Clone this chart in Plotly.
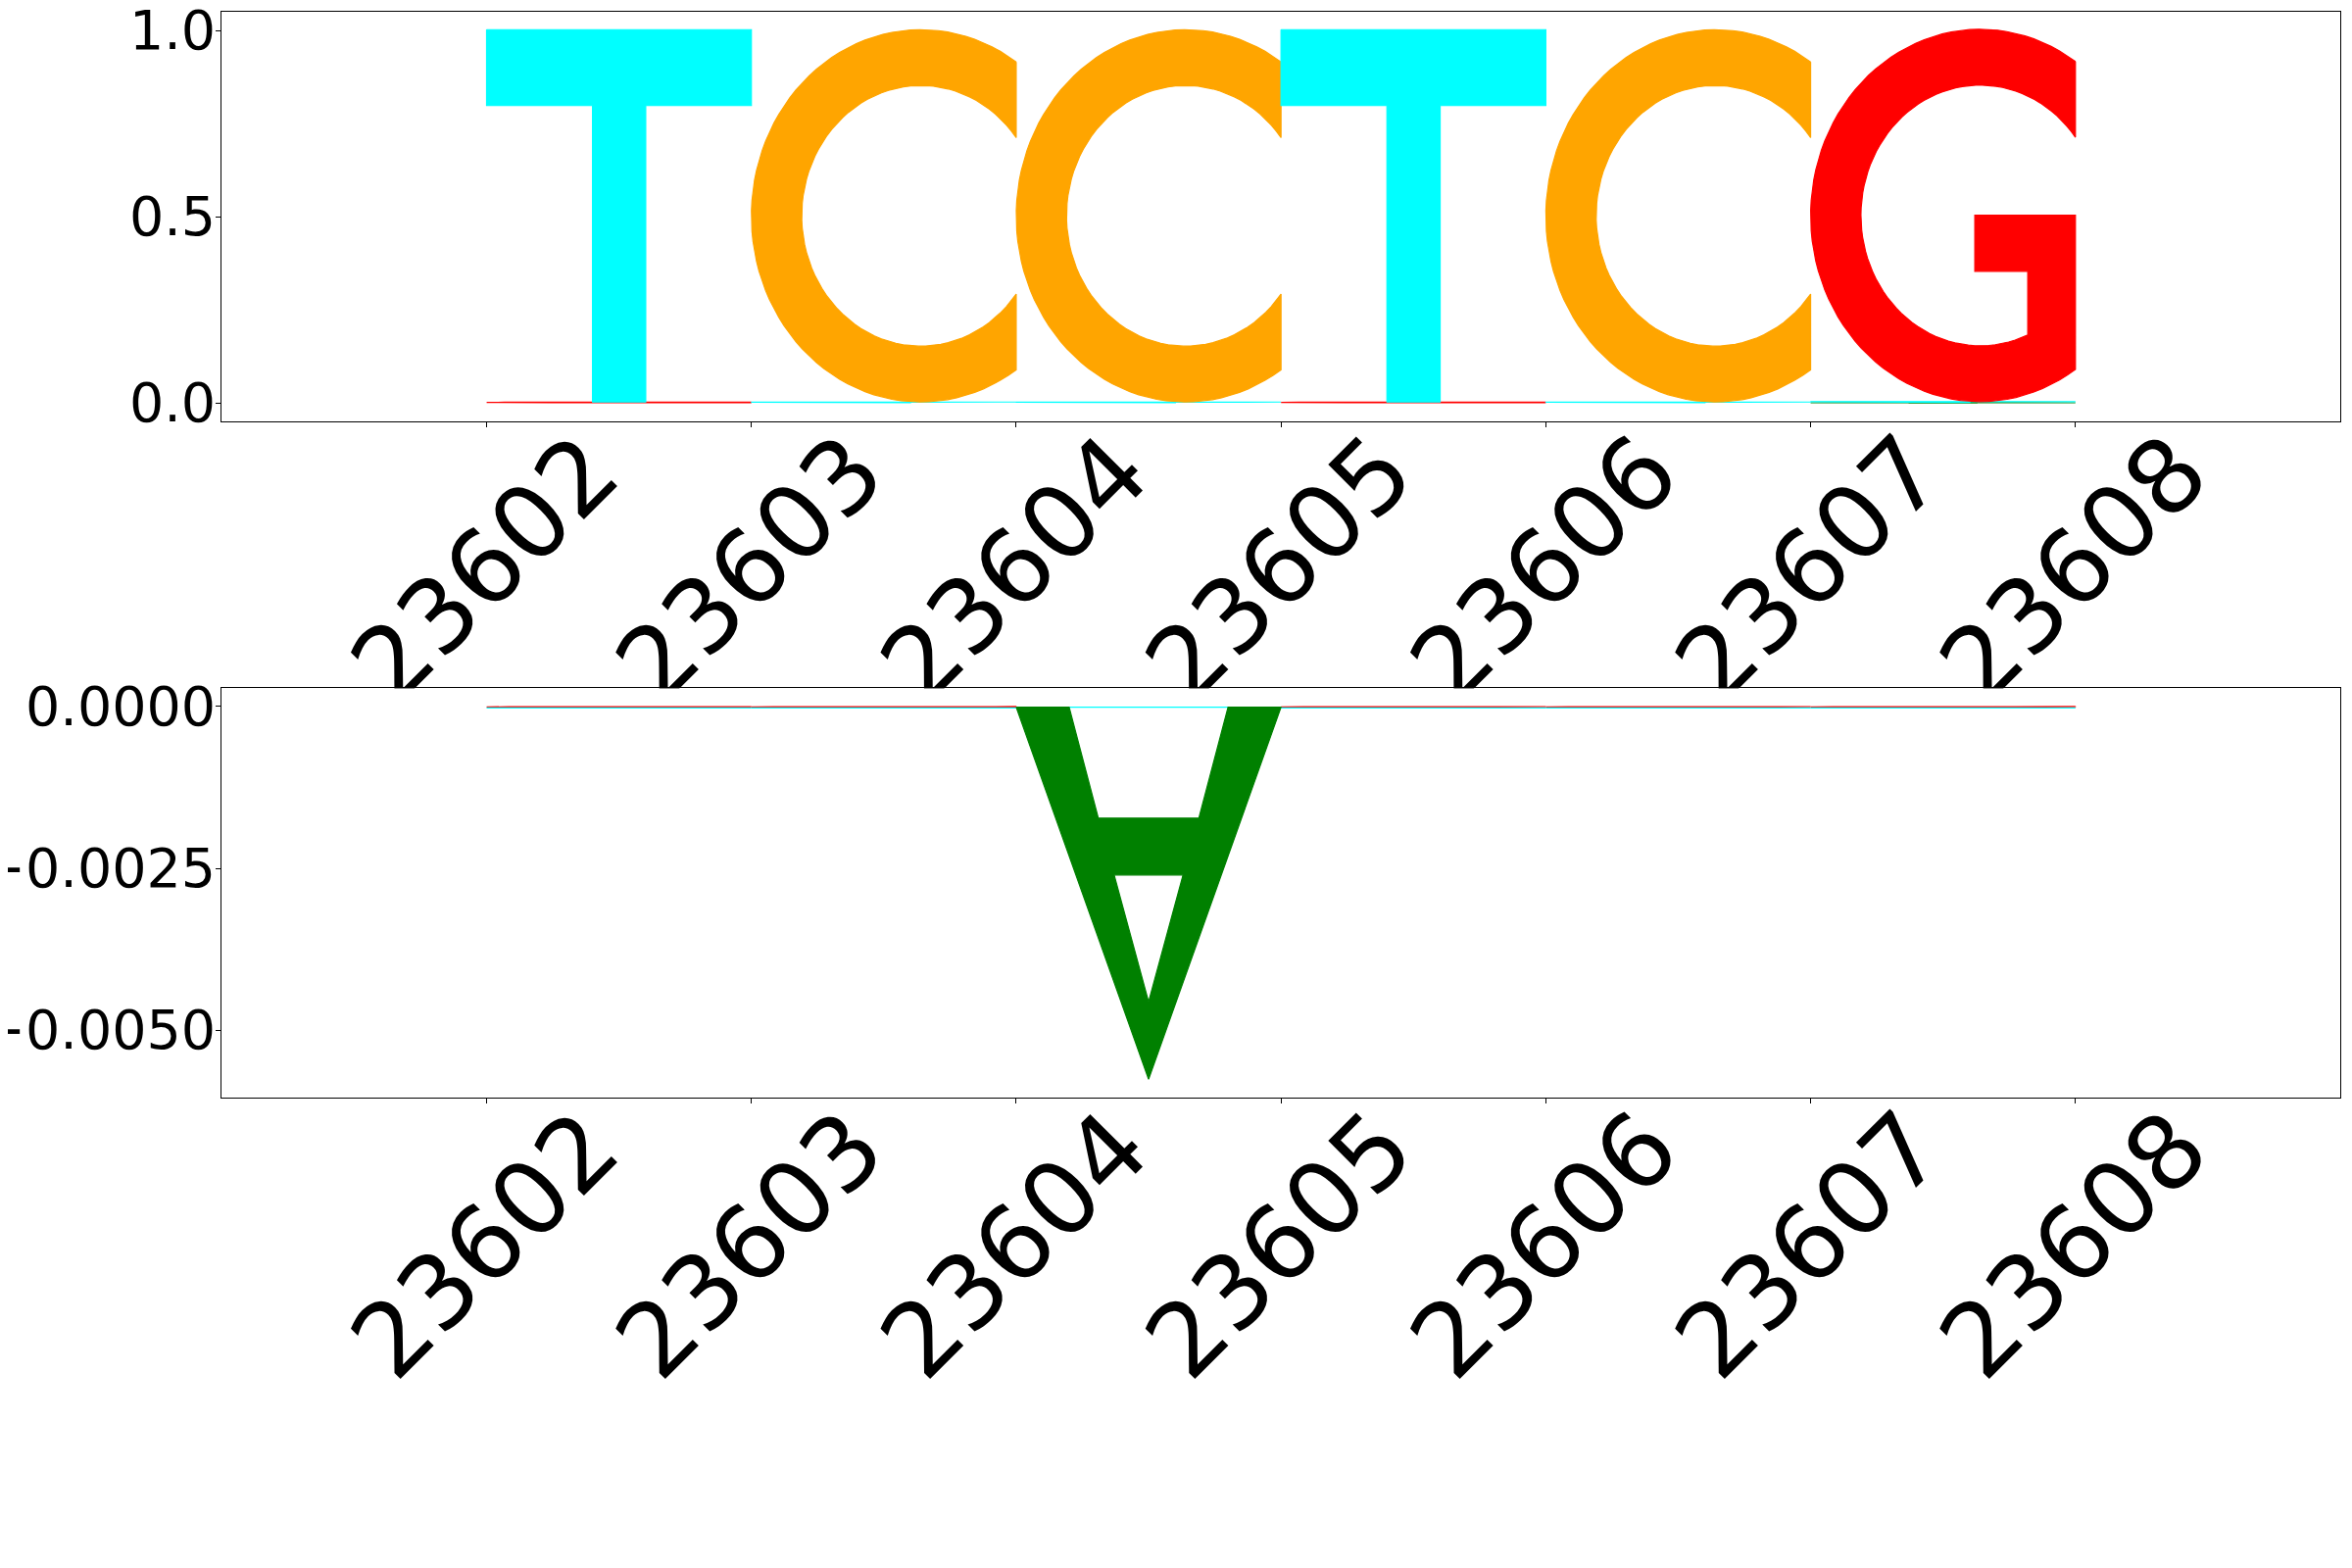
import numpy as np
import plotly.graph_objects as go

# ---------------- data ----------------
positions = [23602, 23603, 23604, 23605, 23606, 23607, 23608]
tick_labels = ["23602", "23603", "23604", "23605", "23606", "23607", "23608"]

# top panel: per-base heights
top_A = [0.0, 0.0, 0.0, 0.0, 0.0, 0.001, 0.0]
top_C = [0.0, 1.0, 1.0, 0.0, 1.0, 0.0, 0.0]
top_G = [0.002, 0.0, 0.0, 0.002, 0.0, 1.0, 0.0]
top_T = [1.0, 0.002, 0.002, 1.0, 0.002, 0.002, 0.0]

# bottom panel: per-base heights
bot_A = [0.0, 0.0, -0.00575, 0.0, 0.0, 0.0, 0.0]
bot_C = [0.0, 0.0, 0.0, 0.0, 0.0, 0.0, 0.0]
bot_G = [-0.00001, -0.00001, 0.0, -0.00001, -0.00001, -0.00001, 0.0]
bot_T = [-0.00001, -0.00001, -0.00001, -0.00001, -0.00001, -0.00001, 0.0]

top_yticks = [0.0, 0.5, 1.0]
top_yticktext = ["0.0", "0.5", "1.0"]
bot_yticks = [0.0, -0.0025, -0.005]
bot_yticktext = ["0.0000", "\u22120.0025", "\u22120.0050"]

x_range = [23601, 23609]
top_range = [-0.05, 1.0492]
bot_range = [-0.006045, 0.000283]

colors = {"A": "green", "C": "orange", "G": "red", "T": "cyan"}

# ---------------- glyph templates (unit box, y up) ----------------
def arc(cx, cy, a, b, t0, t1, n=80):
    t = np.radians(np.linspace(t0, t1, n))
    return list(cx + a * np.cos(t)), list(cy + b * np.sin(t))

def glyph_C():
    ox, oy = arc(0.64, 0.5, 0.64, 0.5, 55.77, 304.23)
    ix, iy = arc(0.64, 0.5, 0.45, 0.35, 323.13, 36.87)
    return [ox + ix + [ox[0]]], [oy + iy + [oy[0]]]

def glyph_G():
    ox, oy = arc(0.64, 0.5, 0.64, 0.5, 55.77, 304.23)
    ix, iy = arc(0.64, 0.5, 0.45, 0.35, 293.58, 36.87)
    xs = ox + [1.0, 0.62, 0.62, 0.82] + ix + [ox[0]]
    ys = oy + [0.501, 0.501, 0.35, 0.35] + iy + [oy[0]]
    return [xs], [ys]

def glyph_T():
    xs = [0, 1, 1, 0.601, 0.601, 0.40, 0.40, 0, 0]
    ys = [1, 1, 0.796, 0.796, 0, 0, 0.796, 0.796, 1]
    return [xs], [ys]

def glyph_A():
    ox = [0, 0.5, 1.0, 0.8, 0.69, 0.31, 0.2, 0]
    oy = [0, 1.0, 0, 0, 0.298, 0.298, 0, 0]
    hx = [0.37, 0.63, 0.5, 0.37]
    hy = [0.451, 0.451, 0.792, 0.451]
    return [ox, hx], [oy, hy]

templates = {"A": glyph_A(), "C": glyph_C(), "G": glyph_G(), "T": glyph_T()}

fig = go.Figure()

# opaque background for the lower panel (its frame hides the tails of the
# upper panel's rotated tick labels, as in the original figure)
fig.add_trace(go.Scatter(
    x=[x_range[0], x_range[1], x_range[1], x_range[0], x_range[0]],
    y=[bot_range[0], bot_range[0], bot_range[1], bot_range[1], bot_range[0]],
    xaxis="x2", yaxis="y2", mode="lines", fill="toself", fillcolor="white",
    line=dict(width=0), hoverinfo="skip", showlegend=False))

def add_logo(vals, xref, yref):
    glyphs = []
    for i, p in enumerate(positions):
        col = [(b, vals[b][i]) for b in "ACGT" if vals[b][i] != 0]
        pos = sorted([c for c in col if c[1] > 0], key=lambda c: c[1])
        neg = sorted([c for c in col if c[1] < 0], key=lambda c: -c[1])
        for group in (pos, neg):
            base = 0.0
            for b, v in group:
                glyphs.append((abs(v), b, p, base, v))
                base += v
    glyphs.sort(key=lambda g: g[0])
    for _, b, p, base, v in glyphs:
        rings_x, rings_y = templates[b]
        xs, ys = [], []
        for rx, ry in zip(rings_x, rings_y):
            xs += [p + u for u in rx] + [None]
            ys += [base + w * v for w in ry] + [None]
        fig.add_trace(go.Scatter(
            x=xs, y=ys, xaxis=xref, yaxis=yref, mode="lines", fill="toself",
            fillcolor=colors[b], line=dict(color=colors[b], width=1.2),
            hoverinfo="skip", showlegend=False))

add_logo({"A": top_A, "C": top_C, "G": top_G, "T": top_T}, "x", "y")
add_logo({"A": bot_A, "C": bot_C, "G": bot_G, "T": bot_T}, "x2", "y2")

W, H = 2400, 1600
OFF = 8  # page body margin
xdom = [(226.3 - OFF) / W, (2388 - OFF) / W]
top_dom = [1 - (430 - OFF) / H, 1 - (12.3 - OFF) / H]
bot_dom = [1 - (1120 - OFF) / H, 1 - (702.3 - OFF) / H]

font = "DejaVu Sans"
xcommon = dict(range=x_range, tickvals=positions, ticktext=tick_labels,
               tickangle=-45, tickfont=dict(family=font, size=104, color="black"),
               ticks="outside", ticklen=5, tickwidth=1.1, tickcolor="black",
               showline=True, mirror=True, linecolor="black", linewidth=1.1,
               showgrid=False, zeroline=False, domain=xdom, automargin=False,
               ticklabelshift=104, ticklabelstandoff=-57,
               ticklabeloverflow="allow")
ycommon = dict(tickfont=dict(family=font, size=55.5, color="black"),
               ticks="outside", ticklen=5, tickwidth=1.1, tickcolor="black",
               showline=True, mirror=True, linecolor="black", linewidth=1.1,
               showgrid=False, zeroline=False, automargin=False,
               ticklabelstandoff=-11, ticklabeloverflow="allow")

fig.update_layout(
    width=W, height=H, margin=dict(l=0, r=0, t=0, b=0),
    paper_bgcolor="white", plot_bgcolor="white", showlegend=False,
    xaxis=dict(anchor="y", **xcommon),
    xaxis2=dict(anchor="y2", **xcommon),
    yaxis=dict(anchor="x", domain=top_dom, range=top_range,
               tickvals=top_yticks, ticktext=top_yticktext, **ycommon),
    yaxis2=dict(anchor="x2", domain=bot_dom, range=bot_range,
                tickvals=bot_yticks, ticktext=bot_yticktext, **ycommon),
)

fig.write_html("out.html")
